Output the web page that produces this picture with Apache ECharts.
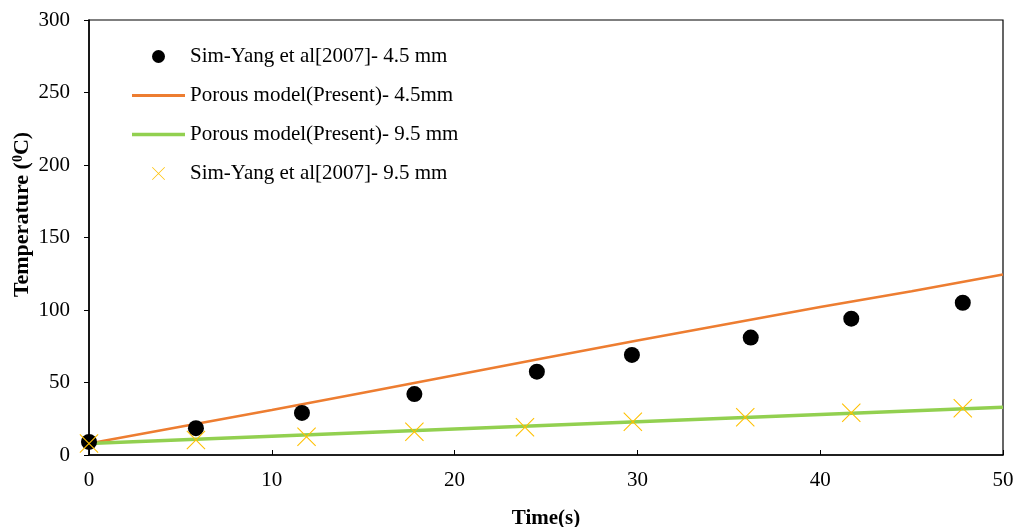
<!DOCTYPE html>
<html>
<head>
<meta charset="utf-8">
<script src="https://cdn.jsdelivr.net/npm/echarts@6/dist/echarts.min.js"></script>
<style>html,body{margin:0;padding:0;background:#fff}#c{width:1018px;height:527px}</style>
</head>
<body>
<div id="c"></div>
<script>
// Sim-Yang et al [2007] - 4.5 mm (time, temperature)
const simYang45 = [[0,9],[5.85,18.5],[11.65,29],[17.8,42],[24.5,57.5],[29.7,69],[36.2,81],[41.7,94],[47.8,105]];
// Sim-Yang et al [2007] - 9.5 mm
const simYang95 = [[0,8],[5.85,10.3],[11.9,12.6],[17.8,16.1],[23.85,19.1],[29.75,23],[35.9,26],[41.7,29.2],[47.8,32.2]];
// Porous model (Present) - 4.5 mm
const porous45 = [[0,8],[5,19.5],[10,31],[15,43],[20,55],[25,67],[30,79],[35,90.5],[40,102],[45,113],[50,124.5]];
// Porous model (Present) - 9.5 mm
const porous95 = [[0,8],[10,13],[20,18],[30,23],[40,28],[50,33]];

const xTicks = {min:0, max:50, interval:10};
const yTicks = {min:0, max:300, interval:50};
const names = ['Sim-Yang et al[2007]- 4.5 mm','Porous model(Present)- 4.5mm','Porous model(Present)- 9.5 mm','Sim-Yang et al[2007]- 9.5 mm'];

const FONT = '"Liberation Serif","Times New Roman",serif';
const FS = 21;
const xPath = 'path://M0,4L4,0L100,96L96,100Z M96,0L100,4L4,100L0,96Z';

const chart = echarts.init(document.getElementById('c'), null, {renderer:'canvas'});
chart.setOption({
  animation:false,
  backgroundColor:'#fff',
  textStyle:{fontFamily:FONT},
  grid:{left:89, right:15, top:20, bottom:72, outerBoundsMode:'none', containLabel:false, show:true, borderColor:'#000', borderWidth:1.2, backgroundColor:'transparent'},
  legend:{
    orient:'vertical', left:132, top:46, padding:0, itemGap:18, itemWidth:53, itemHeight:13,
    textStyle:{fontFamily:FONT, fontSize:FS, color:'#000'},
    data:[
      {name:names[0], icon:'circle', itemStyle:{color:'#000', opacity:1}},
      {name:names[1], icon:'path://M0,0L100,0L100,5.5L0,5.5Z', itemStyle:{color:'#ED7D31'}},
      {name:names[2], icon:'path://M0,0L100,0L100,7L0,7Z', itemStyle:{color:'#92D050'}},
      {name:names[3], icon:xPath, itemStyle:{color:'#FFC000', opacity:1}}
    ]
  },
  xAxis:{
    type:'value', min:xTicks.min, max:xTicks.max, interval:xTicks.interval,
    name:'Time(s)', nameLocation:'middle', nameGap:53, nameMoveOverlap:false,
    nameTextStyle:{fontFamily:FONT, fontSize:FS, fontWeight:'bold', color:'#000'},
    axisLine:{show:true, lineStyle:{color:'#000', width:1.5}},
    axisTick:{show:true, inside:true, length:5, lineStyle:{color:'#000'}},
    axisLabel:{fontFamily:FONT, fontSize:FS, color:'#000', margin:15},
    splitLine:{show:false}
  },
  yAxis:{
    type:'value', min:yTicks.min, max:yTicks.max, interval:yTicks.interval,
    name:'{a|Temperature (}{s|0}{a|C)}', nameLocation:'middle', nameGap:56, nameRotate:90, nameMoveOverlap:false,
    nameTextStyle:{fontFamily:FONT, fontSize:22, fontWeight:'bold', color:'#000', padding:[0,0,0,46],
      rich:{a:{fontFamily:FONT, fontSize:22, fontWeight:'bold', color:'#000'},
            s:{fontFamily:FONT, fontSize:14, fontWeight:'bold', color:'#000', verticalAlign:'top', padding:[0,0,7,0]}}},
    axisLine:{show:true, lineStyle:{color:'#000', width:1.5}},
    axisTick:{show:true, inside:false, length:5, lineStyle:{color:'#000'}},
    axisLabel:{fontFamily:FONT, fontSize:FS, color:'#000', margin:19},
    splitLine:{show:false}
  },
  series:[
    {name:names[0], type:'scatter', data:simYang45, symbol:'circle', symbolSize:16, itemStyle:{color:'#000', opacity:1}, z:5},
    {name:names[1], type:'line', data:porous45, showSymbol:false, symbol:'none', lineStyle:{color:'#ED7D31', width:2.5}, itemStyle:{color:'#ED7D31'}, z:3},
    {name:names[2], type:'line', data:porous95, showSymbol:false, symbol:'none', lineStyle:{color:'#92D050', width:3.5}, itemStyle:{color:'#92D050'}, z:3},
    {name:names[3], type:'scatter', data:simYang95, symbol:xPath, symbolSize:19, itemStyle:{color:'#FFC000', opacity:1}, z:6}
  ]
});
</script>
</body>
</html>
